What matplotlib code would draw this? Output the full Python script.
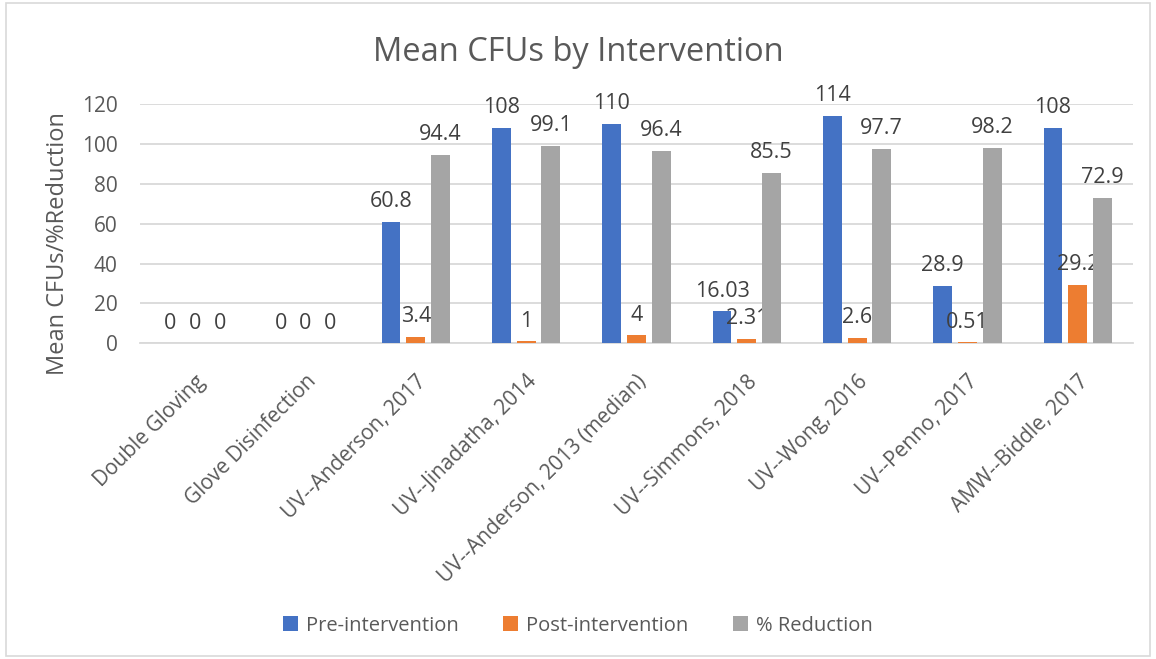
import numpy as np
import matplotlib.pyplot as plt
from matplotlib.patches import Rectangle

plt.rcParams['font.family'] = ['Open Sans', 'DejaVu Sans']

categories = ['Double Gloving', 'Glove Disinfection', 'UV--Anderson, 2017',
              'UV--Jinadatha, 2014', 'UV--Anderson, 2013 (median)',
              'UV--Simmons, 2018', 'UV--Wong, 2016', 'UV--Penno, 2017',
              'AMW--Biddle, 2017']
pre = [0, 0, 60.8, 108, 110, 16.03, 114, 28.9, 108]
post = [0, 0, 3.4, 1, 4, 2.31, 2.6, 0.51, 29.2]
reduction = [0, 0, 94.4, 99.1, 96.4, 85.5, 97.7, 98.2, 72.9]

series = [('Pre-intervention', pre, '#4472C4'),
          ('Post-intervention', post, '#ED7D31'),
          ('% Reduction', reduction, '#A5A5A5')]

text_color = '#595959'

fig = plt.figure(figsize=(11.56, 6.59), dpi=100)
ax = fig.add_axes([0.121, 0.479, 0.859, 0.363])

x = np.arange(len(categories))
width = 0.172
offsets = [-0.224, 0, 0.224]

for (name, vals, color), off in zip(series, offsets):
    bars = ax.bar(x + off, vals, width, color=color, label=name, zorder=3)
    for b, v in zip(bars, vals):
        ax.annotate(f'{v:g}', (b.get_x() + b.get_width() / 2, b.get_height()),
                    xytext=(0, 7), textcoords='offset points',
                    ha='center', va='bottom', fontsize=15.5, color='#404040')

ax.set_xlim(-0.5, len(categories) - 0.5)
ax.set_ylim(0, 120)
ax.set_yticks(range(0, 121, 20))
ax.grid(axis='y', color='#D9D9D9', linewidth=1.3, zorder=0)
for s in ['top', 'right', 'left']:
    ax.spines[s].set_visible(False)
ax.spines['bottom'].set_color('#D9D9D9')
ax.spines['bottom'].set_linewidth(1.3)
ax.tick_params(axis='both', length=0, labelsize=15, colors=text_color)
ax.tick_params(axis='x', pad=20)
ax.tick_params(axis='y', pad=16)
ax.set_xticks(x)
ax.set_xticklabels(categories, rotation=45, ha='right', rotation_mode='anchor')
ax.set_ylabel('Mean CFUs/%Reduction', fontsize=17, color=text_color)
ax.yaxis.set_label_coords(-0.07, 0.417)

fig.suptitle('Mean CFUs by Intervention', fontsize=23.5, color=text_color, y=0.945)

fig.legend(loc='lower center', ncol=3, frameon=False, fontsize=14.5,
           bbox_to_anchor=(0.5, 0.008), handlelength=0.75, handleheight=0.75,
           columnspacing=2.2, handletextpad=0.4, labelcolor=text_color)

fig.patches.append(Rectangle((0.005, 0.005), 0.99, 0.99, transform=fig.transFigure,
                             fill=False, edgecolor='#D9D9D9', linewidth=1.2))

fig.savefig('out.png', dpi=100)
